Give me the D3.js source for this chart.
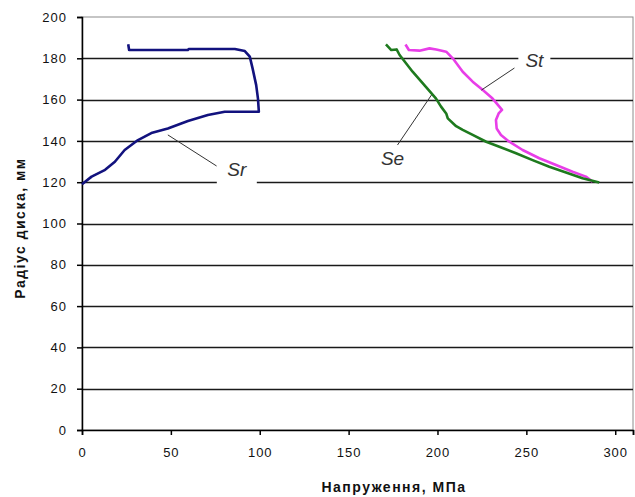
<!DOCTYPE html>
<html>
<head>
<meta charset="utf-8">
<script src="https://cdn.jsdelivr.net/npm/d3@7"></script>
<style>
  body { margin: 0; background: #fff; }
  text { font-family: "Liberation Sans", Arial, sans-serif; }
</style>
</head>
<body>
<div id="chart"></div>
<script>
// stress values (MPa) and disc radius (mm)
var srStress = [26, 26.5, 40, 59.5, 60, 75, 86, 91.6, 94.4, 96, 98, 99, 99.5, 80.3, 70.8, 59.6, 48.3, 39, 31.5, 24, 18.5, 13, 5.4, 0];
var srRadius = [186.8, 184, 184, 184, 184.5, 184.5, 184.5, 183.5, 180.8, 175, 167, 160.5, 154.1, 154.1, 152.5, 149.6, 146, 143.8, 140.4, 135.6, 129.9, 126, 122.7, 119];

var seStress = [171, 174, 177, 178.7, 186, 193.6, 199.2, 202, 204.9, 205.8, 210.5, 214.2, 219.8, 227.4, 234.8, 244.2, 253.5, 262.9, 272.3, 281.6, 291];
var seRadius = [186.7, 184, 184.3, 181.6, 173.5, 166, 160.5, 156.6, 153.3, 150.9, 147.1, 145.3, 142.9, 139.6, 137.2, 134, 130.7, 127.5, 124.7, 121.9, 119.8];

var stStress = [182, 183.9, 189.9, 195.5, 199.3, 204.9, 208.6, 214.2, 219.8, 225.5, 231, 234.8, 236.3, 234.4, 232.9, 233.3, 235.7, 240.4, 247.9, 257.3, 266.7, 276, 283.5, 287.3];
var stRadius = [186.7, 184, 183.7, 184.8, 184.3, 183.2, 180, 173.5, 168.7, 164.6, 160.5, 156.6, 155, 153.3, 150.1, 146, 142.9, 139.6, 135.6, 131.6, 128.3, 125.1, 122.7, 120.2];

var xTicks = [0, 50, 100, 150, 200, 250, 300];
var yTicks = [0, 20, 40, 60, 80, 100, 120, 140, 160, 180, 200];

var labelNames = ['Sr', 'St', 'Se'];
var labelX = [87.1, 254.5, 174.7];
var labelY = [126, 179, 131.5];
var leaderX1 = [48.3, 224.7, 196.6];
var leaderY1 = [142.9, 164.6, 162.2];
var leaderX2 = [75.8, 243.3, 177.5];
var leaderY2 = [127.8, 175.3, 138];

var w = 635, h = 497;
var margin = {top: 17, right: 2, bottom: 67, left: 82};

var svg = d3.select('#chart').append('svg')
  .attr('width', w)
  .attr('height', h);

var x = d3.scaleLinear().domain([0, 310]).range([margin.left, w - margin.right]);
var y = d3.scaleLinear().domain([0, 200]).range([h - margin.bottom, margin.top]);

// plot border (top / right)
svg.append('rect')
  .attr('x', x(0)).attr('y', y(200))
  .attr('width', x(310) - x(0)).attr('height', y(0) - y(200))
  .attr('fill', 'none').attr('stroke', '#8c8c8c').attr('stroke-width', 1);

// horizontal gridlines
svg.append('g').selectAll('line')
  .data(yTicks.filter(function(d) { return d > 0 && d < 200; }))
  .enter().append('line')
  .attr('x1', x(0)).attr('x2', x(310))
  .attr('y1', function(d) { return Math.round(y(d)) + 0.5; })
  .attr('y2', function(d) { return Math.round(y(d)) + 0.5; })
  .attr('stroke', '#1a1a1a').attr('stroke-width', 1.5);

// axes
var yAxis = svg.append('g')
  .attr('transform', 'translate(' + x(0) + ',0)')
  .call(d3.axisLeft(y).tickValues(yTicks).tickSize(5).tickPadding(10));
var xAxis = svg.append('g')
  .attr('transform', 'translate(0,' + y(0) + ')')
  .call(d3.axisBottom(x).tickValues(xTicks.concat([310])).tickSize(5).tickPadding(13)
    .tickFormat(function(d) { return d === 310 ? '' : d; }));

[xAxis, yAxis].forEach(function(a) {
  a.select('.domain').attr('stroke', '#000').attr('stroke-width', 1.5);
  a.selectAll('.tick line').attr('stroke', '#000').attr('stroke-width', 1.5);
  a.selectAll('.tick text')
    .attr('fill', '#111')
    .style('font-size', '13px')
    .style('letter-spacing', '1px')
    .style('font-family', '"Liberation Sans", Arial, sans-serif');
});

// series
var line = d3.line()
  .x(function(d) { return x(d[0]); })
  .y(function(d) { return y(d[1]); });

var series = [
  {stress: srStress, radius: srRadius, color: '#12127e'},
  {stress: stStress, radius: stRadius, color: '#e83ee8'},
  {stress: seStress, radius: seRadius, color: '#1e7a1e'}
];

svg.append('g').selectAll('path')
  .data(series)
  .enter().append('path')
  .attr('d', function(s) { return line(d3.zip(s.stress, s.radius)); })
  .attr('fill', 'none')
  .attr('stroke', function(s) { return s.color; })
  .attr('stroke-width', 2.6)
  .attr('stroke-linejoin', 'round');

// annotation leaders + labels
var boxW = [40, 32, 32];
var ann = svg.append('g');
labelNames.forEach(function(name, i) {
  ann.append('line')
    .attr('x1', x(leaderX1[i])).attr('y1', y(leaderY1[i]))
    .attr('x2', x(leaderX2[i])).attr('y2', y(leaderY2[i]))
    .attr('stroke', '#333').attr('stroke-width', 1);
  ann.append('rect')
    .attr('x', x(labelX[i]) - boxW[i] / 2).attr('y', y(labelY[i]) - 11)
    .attr('width', boxW[i]).attr('height', 26)
    .attr('fill', '#fff');
  ann.append('text')
    .attr('x', x(labelX[i])).attr('y', y(labelY[i]))
    .attr('dy', '0.35em')
    .attr('text-anchor', 'middle')
    .attr('font-style', 'italic')
    .attr('font-size', '19px')
    .attr('fill', '#333')
    .text(name);
});

// axis titles
svg.append('text')
  .attr('x', 394).attr('y', 492)
  .attr('text-anchor', 'middle')
  .attr('font-weight', 'bold')
  .attr('font-size', '14px')
  .style('letter-spacing', '1.5px')
  .attr('fill', '#111')
  .text('Напруження, МПа');

svg.append('text')
  .attr('transform', 'translate(25,' + 228 + ') rotate(-90)')
  .attr('text-anchor', 'middle')
  .attr('font-weight', 'bold')
  .attr('font-size', '14px')
  .style('letter-spacing', '1.5px')
  .attr('fill', '#111')
  .text('Радіус диска, мм');
</script>
</body>
</html>
